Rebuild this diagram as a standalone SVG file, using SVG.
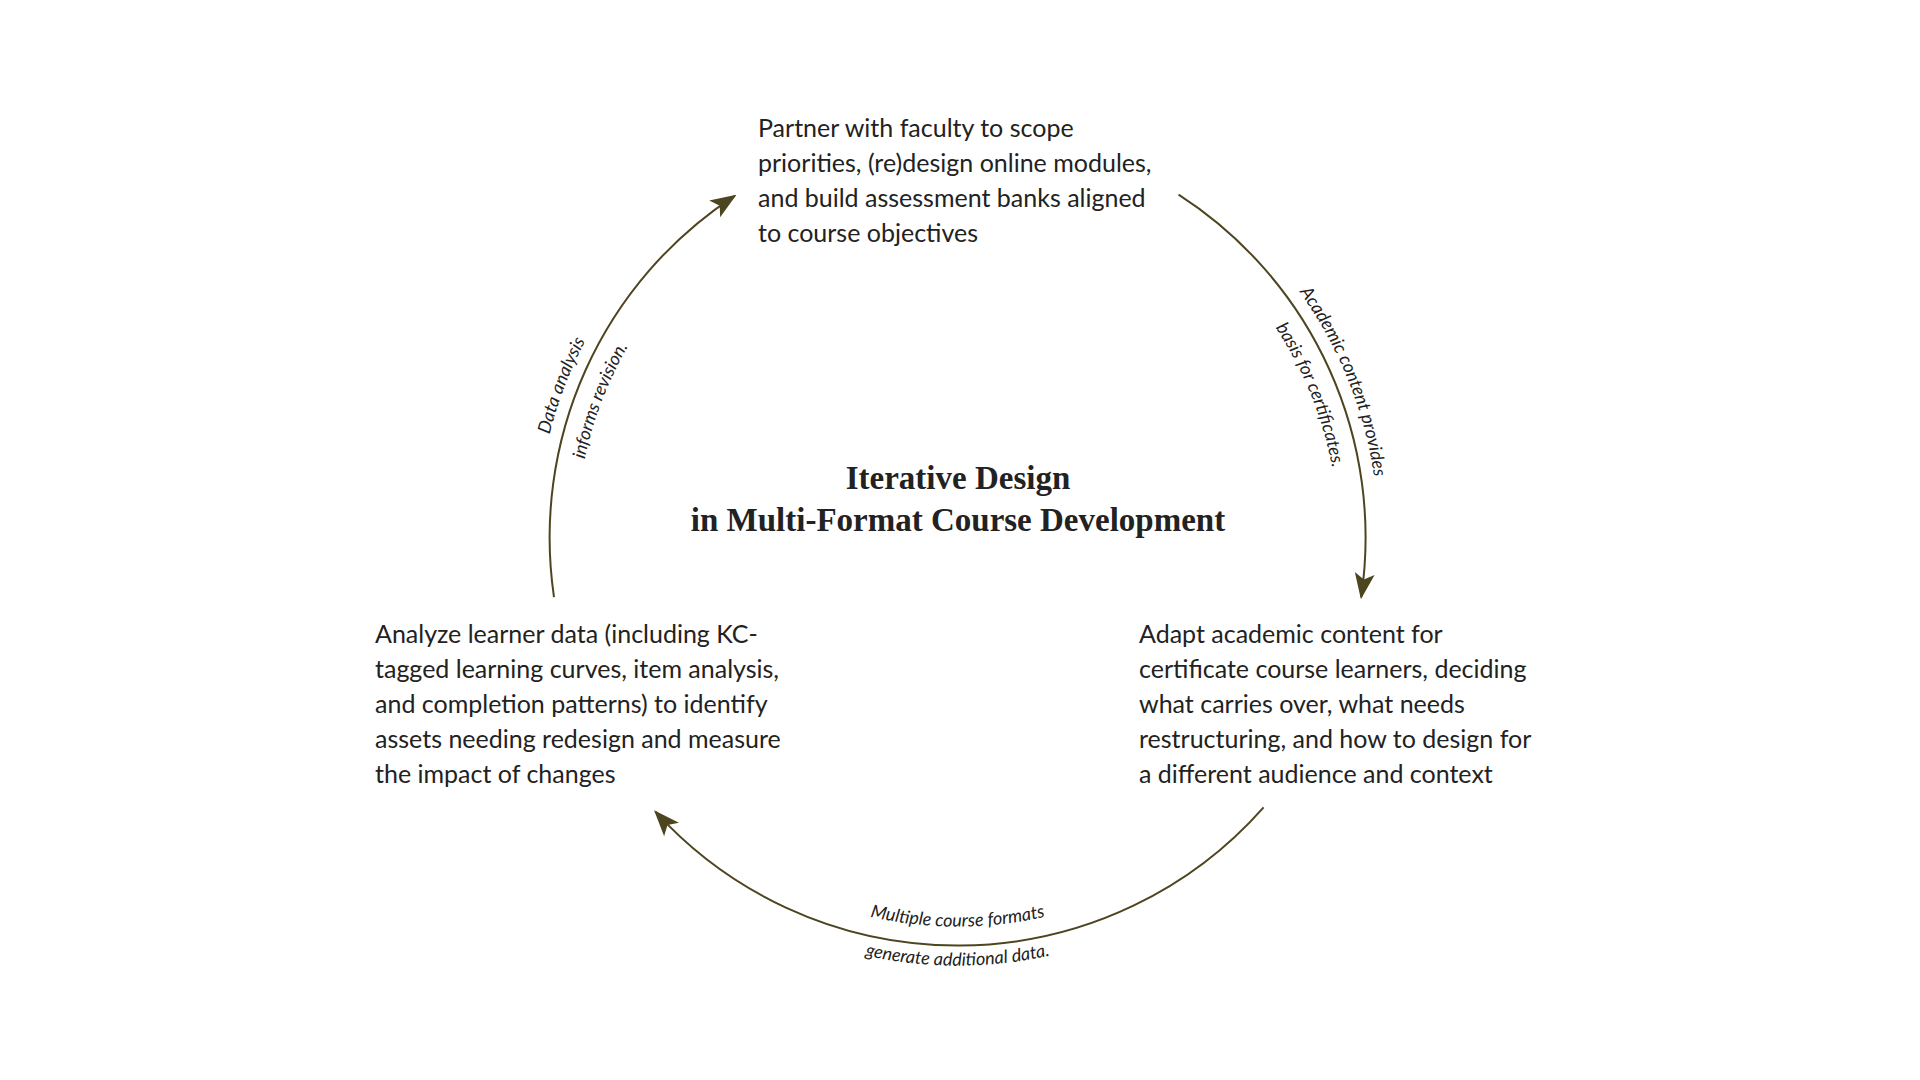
<svg xmlns="http://www.w3.org/2000/svg" width="1920" height="1080" viewBox="0 0 1920 1080">
<style>
.body{font-family:Lato,"Liberation Sans",sans-serif;font-size:25px;fill:#222}
.title{font-family:"Liberation Serif",serif;font-weight:bold;font-size:33px;fill:#222;text-anchor:middle}
.lbl{font-family:Lato,"Liberation Sans",sans-serif;font-style:italic;font-size:18px;fill:#222}
.arc{fill:none;stroke:#4d4520;stroke-width:2}
</style>
<defs>
<marker id="ah" viewBox="0 0 26 20" refX="24" refY="10" markerWidth="26" markerHeight="20" markerUnits="userSpaceOnUse" orient="auto">
<path d="M0,0 L26,10 L0,20 L6,10 Z" fill="#4d4520"/>
</marker>
<path id="t1o" d="M1016.2,120.7 A421,421 0 0 1 1289.3,796.8"/>
<path id="t1i" d="M1010.6,160.3 A381,381 0 0 1 1257.8,772.2"/>
<path id="t3o" d="M630.4,802.5 A421,421 0 0 1 891.8,121.8"/>
<path id="t3i" d="M661.5,777.4 A381,381 0 0 1 898.0,161.3"/>
<path id="t2i" d="M620.7,732.1 A389,389 0 0 0 1294.5,732.1"/>
<path id="t2o" d="M586.9,751.6 A428,428 0 0 0 1328.3,751.6"/>
</defs>
<rect width="1920" height="1080" fill="#fff"/>
<g id="title"><text class="title" x="958" y="489">Iterative Design</text><text class="title" x="958" y="531">in Multi-Format Course Development</text></g>
<g id="node-top"><text class="body" x="758" y="137">Partner with faculty to scope</text><text class="body" x="758" y="172">priorities, (re)design online modules,</text><text class="body" x="758" y="207">and build assessment banks aligned</text><text class="body" x="758" y="242">to course objectives</text></g>
<g id="node-right"><text class="body" x="1139" y="643">Adapt academic content for</text><text class="body" x="1139" y="678">certificate course learners, deciding</text><text class="body" x="1139" y="713">what carries over, what needs</text><text class="body" x="1139" y="748">restructuring, and how to design for</text><text class="body" x="1139" y="783">a different audience and context</text></g>
<g id="node-left"><text class="body" x="375" y="643">Analyze learner data (including KC-</text><text class="body" x="375" y="678">tagged learning curves, item analysis,</text><text class="body" x="375" y="713">and completion patterns) to identify</text><text class="body" x="375" y="748">assets needing redesign and measure</text><text class="body" x="375" y="783">the impact of changes</text></g>
<g id="connectors">
<path class="arc" marker-end="url(#ah)" d="M1178.6,194.6 A408,408 0 0 1 1361.2,597.2"/>
<path class="arc" marker-end="url(#ah)" d="M1263.6,807.4 A408,408 0 0 1 655.4,811.7"/>
<path class="arc" marker-end="url(#ah)" d="M554.0,597.2 A408,408 0 0 1 734.8,195.8"/>
<text class="lbl" text-anchor="middle"><textPath href="#t1o" startOffset="50%">Academic content provides</textPath></text>
<text class="lbl" text-anchor="middle"><textPath href="#t1i" startOffset="50%">basis for certificates.</textPath></text>
<text class="lbl" text-anchor="middle"><textPath href="#t3o" startOffset="50%">Data analysis</textPath></text>
<text class="lbl" text-anchor="middle"><textPath href="#t3i" startOffset="50%">informs revision.</textPath></text>
<text class="lbl" text-anchor="middle"><textPath href="#t2i" startOffset="50%">Multiple course formats</textPath></text>
<text class="lbl" text-anchor="middle"><textPath href="#t2o" startOffset="50%">generate additional data.</textPath></text>
</g>
</svg>
